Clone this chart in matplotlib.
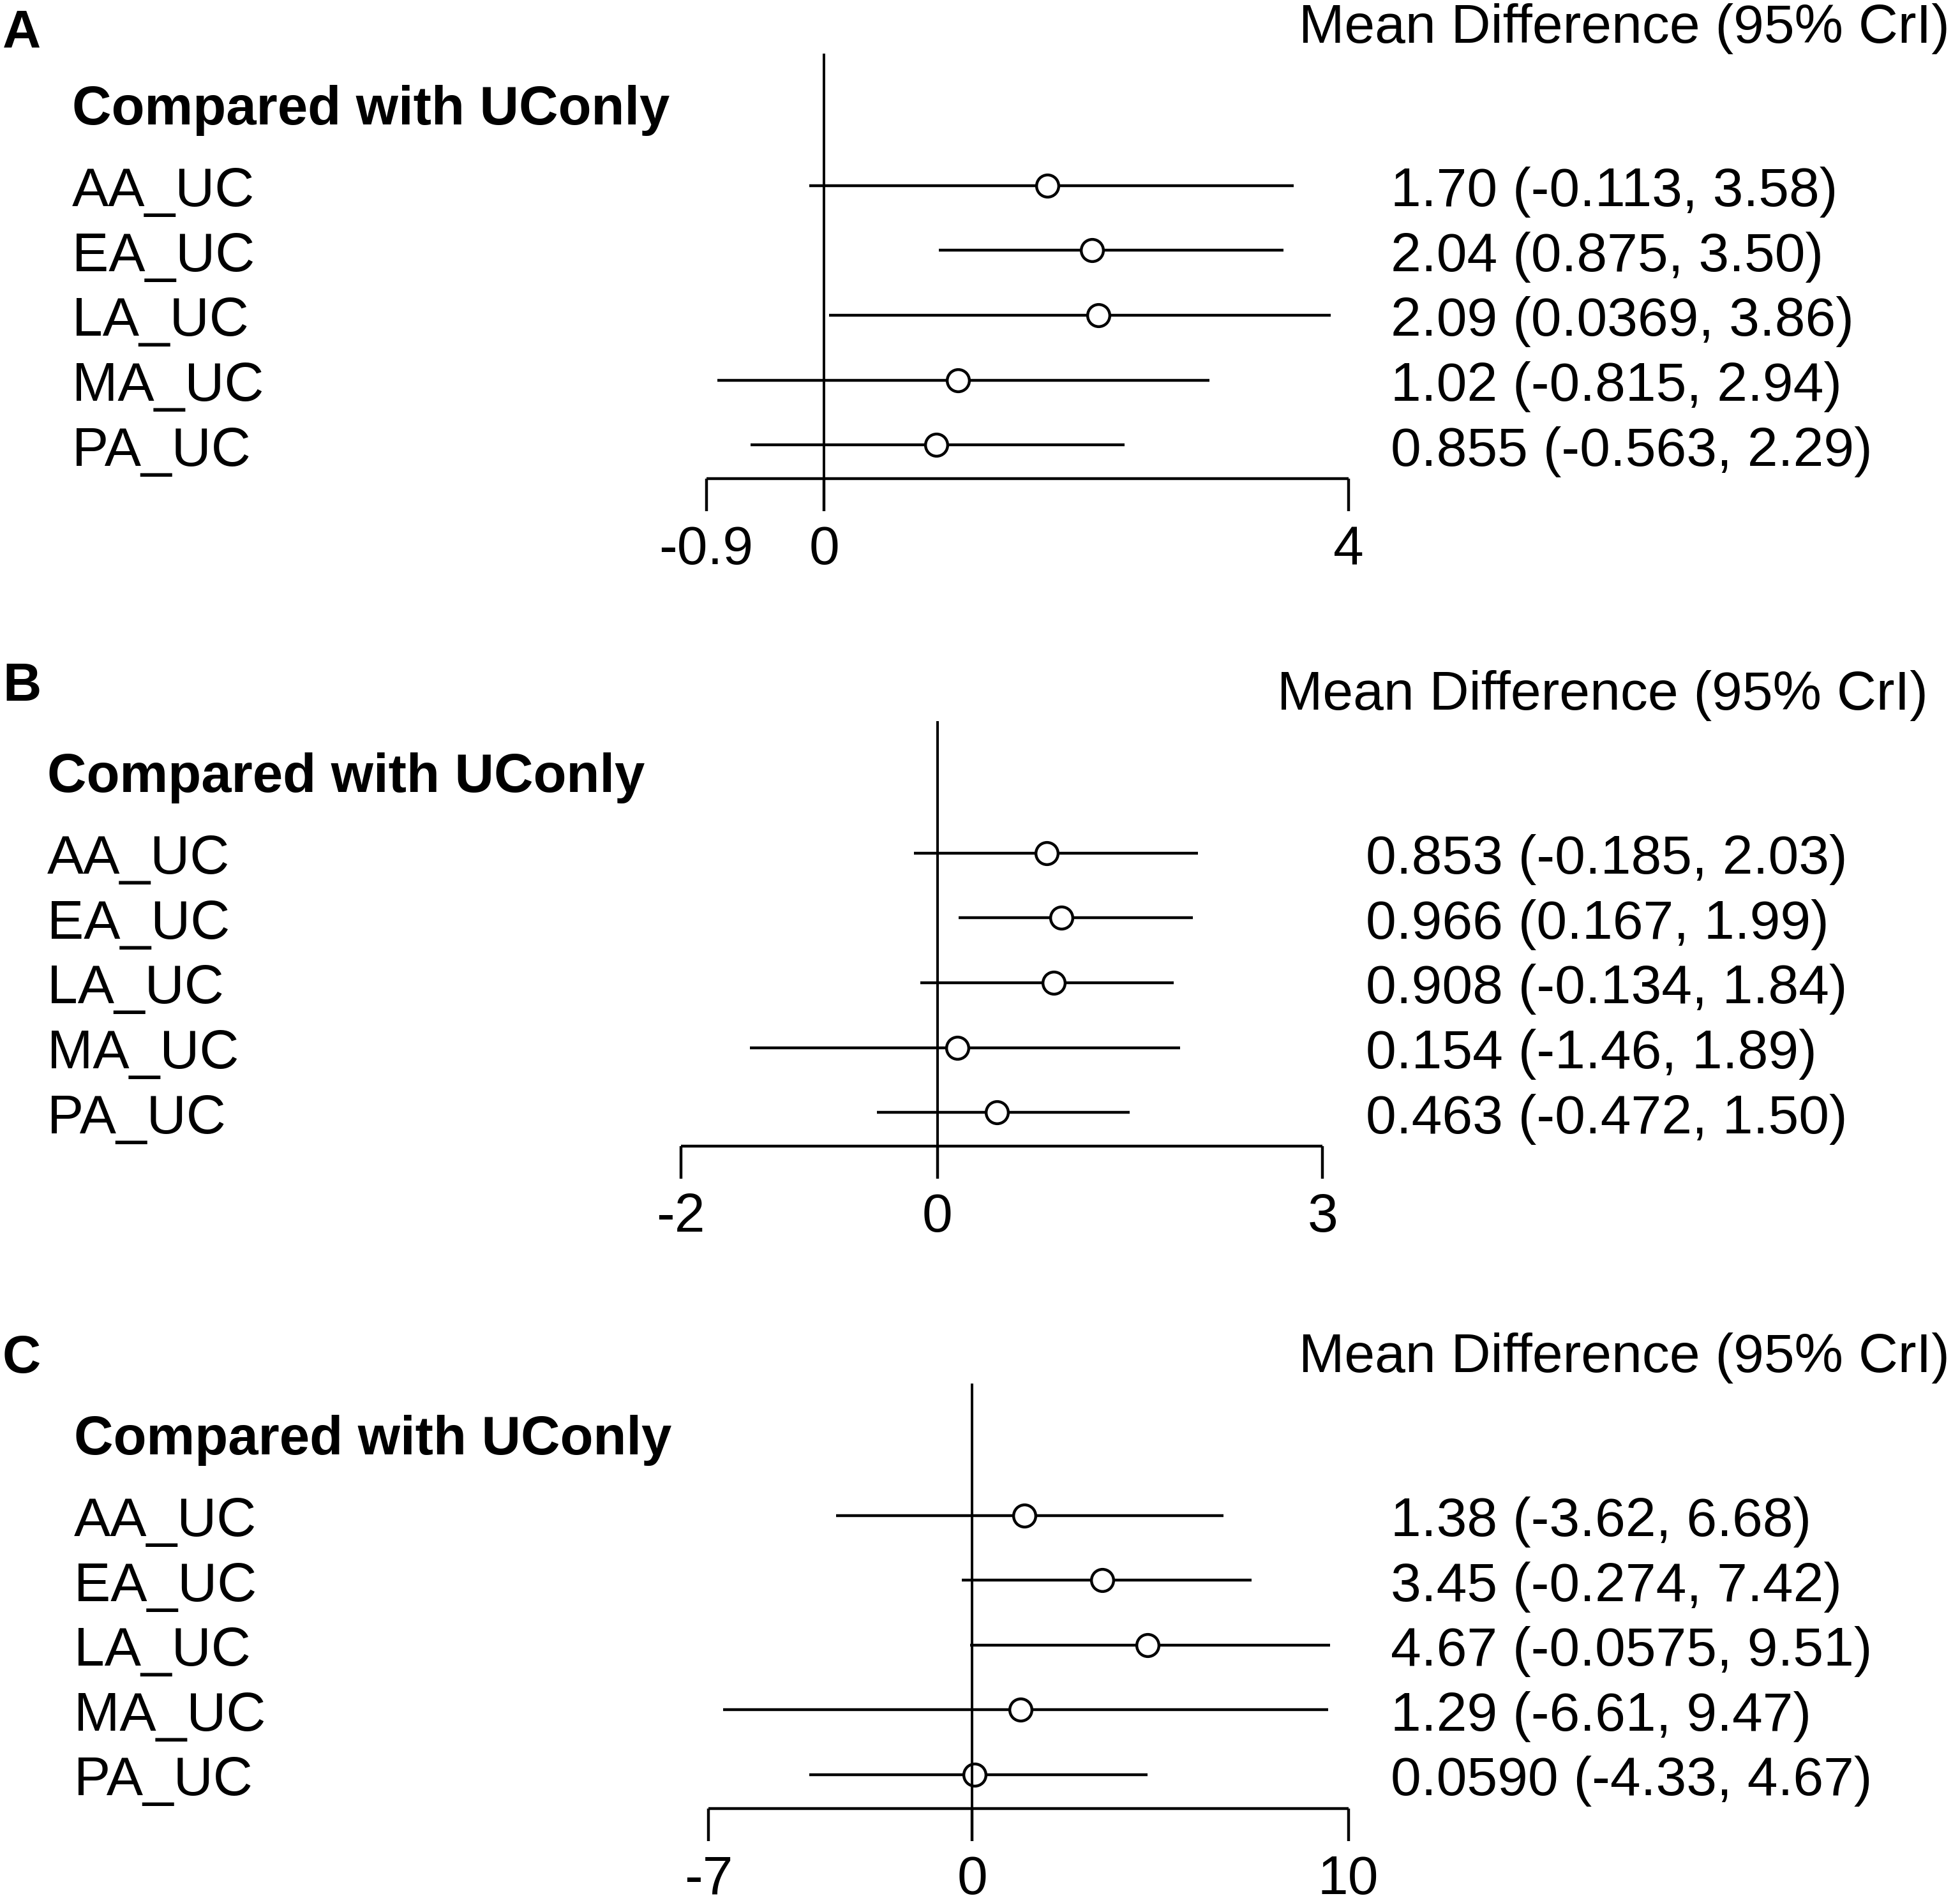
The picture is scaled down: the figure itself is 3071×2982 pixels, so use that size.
import matplotlib
matplotlib.use("Agg")
import matplotlib.pyplot as plt
from matplotlib import transforms

plt.rcParams['font.family'] = ['Liberation Sans', 'DejaVu Sans']

# ---------------- data ----------------
labels = ["AA_UC", "EA_UC", "LA_UC", "MA_UC", "PA_UC"]
header = "Compared with UConly"
col_title = "Mean Difference (95% CrI)"

a_mean = [1.70, 2.04, 2.09, 1.02, 0.855]
a_low = [-0.113, 0.875, 0.0369, -0.815, -0.563]
a_high = [3.58, 3.50, 3.86, 2.94, 2.29]
a_text = ["1.70 (-0.113, 3.58)", "2.04 (0.875, 3.50)", "2.09 (0.0369, 3.86)",
          "1.02 (-0.815, 2.94)", "0.855 (-0.563, 2.29)"]
a_ticks = [-0.9, 0, 4]
a_ticklabels = ["-0.9", "0", "4"]

b_mean = [0.853, 0.966, 0.908, 0.154, 0.463]
b_low = [-0.185, 0.167, -0.134, -1.46, -0.472]
b_high = [2.03, 1.99, 1.84, 1.89, 1.50]
b_text = ["0.853 (-0.185, 2.03)", "0.966 (0.167, 1.99)", "0.908 (-0.134, 1.84)",
          "0.154 (-1.46, 1.89)", "0.463 (-0.472, 1.50)"]
b_ticks = [-2, 0, 3]
b_ticklabels = ["-2", "0", "3"]

c_mean = [1.38, 3.45, 4.67, 1.29, 0.0590]
c_low = [-3.62, -0.274, -0.0575, -6.61, -4.33]
c_high = [6.68, 7.42, 9.51, 9.47, 4.67]
c_text = ["1.38 (-3.62, 6.68)", "3.45 (-0.274, 7.42)", "4.67 (-0.0575, 9.51)",
          "1.29 (-6.61, 9.47)", "0.0590 (-4.33, 4.67)"]
c_ticks = [-7, 0, 10]
c_ticklabels = ["-7", "0", "10"]

panel_letters = ["A", "B", "C"]

# ---------------- layout (reference units: 1568 wide) ----------------
W_PX, H_PX = 3071, 2982
WD = 1568.0
HD = WD * H_PX / W_PX
SP = 51.9  # row spacing

layout = [
    dict(row1=148.5, label_x=57.7, text_x=1112.6, title_r=1560.0,
         tick_px=(565.0, 1079.0), letter_dy=-110.5),
    dict(row1=682.5, label_x=37.6, text_x=1092.6, title_r=1542.5,
         tick_px=(544.6, 1058.0), letter_dy=-122.0),
    dict(row1=1212.4, label_x=59.0, text_x=1112.6, title_r=1560.0,
         tick_px=(567.0, 1078.7), letter_dy=-114.0),
]

panels = [
    (a_mean, a_low, a_high, a_text, a_ticks, a_ticklabels),
    (b_mean, b_low, b_high, b_text, b_ticks, b_ticklabels),
    (c_mean, c_low, c_high, c_text, c_ticks, c_ticklabels),
]

FS = 61.8
LW = 3.2
MS = 25
MEW = 3.2

fig = plt.figure(figsize=(W_PX / 100, H_PX / 100), dpi=100)
fig.patch.set_facecolor("white")

for (mean, low, high, txt, ticks, ticklabels), lay, letter in zip(panels, layout, panel_letters):
    ax = fig.add_axes([0, 0, 1, 1])
    ax.axis("off")
    ax.patch.set_alpha(0)
    row1 = lay["row1"]

    def r_at(y, row1=row1):
        return 1 + (y - row1) / SP

    t0, t1 = ticks[0], ticks[-1]
    p0, p1 = lay["tick_px"]
    k = (p1 - p0) / (t1 - t0)
    ax.set_xlim(t0 - p0 / k, t0 + (WD - p0) / k)
    ax.set_ylim(r_at(HD), r_at(0))

    n = len(mean)
    rows = list(range(1, n + 1))
    tr = transforms.blended_transform_factory(fig.transFigure, ax.transData)

    # CI lines and point estimates
    for r, m, lo, hi in zip(rows, mean, low, high):
        ax.plot([lo, hi], [r, r], color="black", lw=LW, solid_capstyle="butt", zorder=2)
        ax.plot([m], [r], marker="o", ms=MS, mfc="white", mec="black", mew=MEW,
                linestyle="none", zorder=3)

    # axis line and ticks
    r_axis = n + 26.9 / SP
    r_tickb = n + 53.0 / SP
    r_tlab = n + 95.4 / SP
    ax.plot([t0, t1], [r_axis, r_axis], color="black", lw=LW, solid_capstyle="butt", zorder=2)
    for t, tl in zip(ticks, ticklabels):
        ax.plot([t, t], [r_axis, r_tickb], color="black", lw=LW, solid_capstyle="butt", zorder=2)
        ax.text(t, r_tlab, tl, ha="center", va="baseline", fontsize=FS)

    # reference line at zero
    ax.plot([0, 0], [1 - 105.5 / SP, r_tickb], color="black", lw=LW * 0.9,
            solid_capstyle="butt", zorder=4)

    # labels and texts
    for r, lab, t in zip(rows, labels, txt):
        ax.text(lay["label_x"] / WD, r + 16.5 / SP, lab, transform=tr,
                ha="left", va="baseline", fontsize=FS)
        ax.text(lay["text_x"] / WD, r + 16.5 / SP, t, transform=tr,
                ha="left", va="baseline", fontsize=FS)

    ax.text(lay["label_x"] / WD, 1 - 49.0 / SP, header, transform=tr,
            ha="left", va="baseline", fontsize=FS - 0.5, fontweight="bold")
    ax.text(lay["title_r"] / WD, 1 - 114.5 / SP, col_title, transform=tr,
            ha="right", va="baseline", fontsize=FS)
    ax.text(2.0 / WD, 1 + lay["letter_dy"] / SP, letter, transform=tr,
            ha="left", va="baseline", fontsize=60, fontweight="bold")

fig.savefig("out.png", dpi=100, facecolor="white")
